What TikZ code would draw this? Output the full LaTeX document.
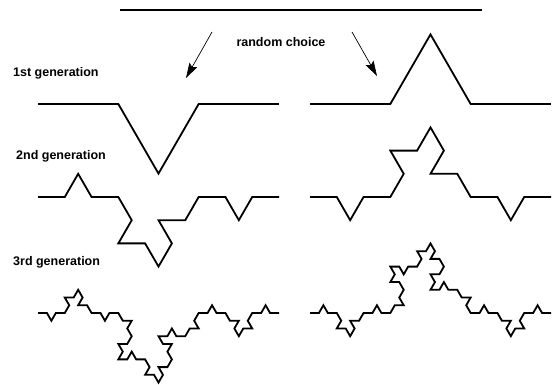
\documentclass[tikz,border=0pt]{standalone}
\usepackage{fontspec}
\setmainfont{Liberation Sans}
\usepackage{tikz}
\usetikzlibrary{arrows.meta}

\begin{document}
\begin{tikzpicture}[x=1pt,y=-1pt,
  curve/.style={line width=1.8pt, black},
  pick/.style={line width=0.7pt, black, -{Stealth[length=15pt,width=9pt,inset=2.5pt]}},
  gen/.style={font=\fontsize{12.5}{15}\selectfont\bfseries, inner sep=0pt}]
  \useasboundingbox (0,0) rectangle (558,385);

  % seed segment
  \coordinate (s0) at (120,10);
  \coordinate (s1) at (482,10);
  \draw[curve] (s0) -- (s1);

  % random choice
  \node[gen] (rc) at (281,42) {random choice};
  \coordinate (la) at (212,32);
  \coordinate (lb) at (186,78);
  \coordinate (ra) at (352,32);
  \coordinate (rb) at (377,76);
  \draw[pick] (la) -- (lb);
  \draw[pick] (ra) -- (rb);

  \node[gen, anchor=west] (g1) at (13,73) {1st generation};
  \node[gen, anchor=west] (g2) at (16,156) {2nd generation};
  \node[gen, anchor=west] (g3) at (13,262) {3rd generation};

  % 1st generation
  \draw[curve] (38,104) \foreach \a in {0,-60,60,0} { -- ++(\a:80.33pt) };
  \draw[curve] (310,104) \foreach \a in {0,60,-60,0} { -- ++(\a:80.33pt) };

  % 2nd generation
  \draw[curve] (38,197) \foreach \a in {0,60,-60,0, -60,-120,0,-60,
    60,120,0,60, 0,-60,60,0} { -- ++(\a:26.78pt) };
  \draw[curve] (310,197) \foreach \a in {0,-60,60,0, 60,120,0,60,
    -60,-120,0,-60, 0,-60,60,0} { -- ++(\a:26.78pt) };

  % 3rd generation
  \draw[curve] (38,313) \foreach \a in {0,-60,60,0, 60,120,0,60,
    -60,-120,0,-60, 0,-60,60,0, -60,0,-120,-60, -120,-180,-60,-120,
    0,60,-60,0, -60,-120,0,-60, 60,120,0,60, 120,60,180,120,
    0,60,-60,0, 60,0,120,60, 0,60,-60,0, -60,0,-120,-60,
    60,0,120,60, 0,60,-60,0} { -- ++(\a:8.926pt) };
  \draw[curve] (310,313) \foreach \a in {0,60,-60,0, -60,-120,0,-60,
    60,120,0,60, 0,60,-60,0, 60,0,120,60, 120,180,60,120,
    0,-60,60,0, 60,120,0,60, -60,-120,0,-60, -120,-180,-60,-120,
    0,60,-60,0, -60,0,-120,-60, 0,60,-60,0, -60,0,-120,-60,
    60,0,120,60, 0,60,-60,0} { -- ++(\a:8.926pt) };
\end{tikzpicture}
\end{document}
